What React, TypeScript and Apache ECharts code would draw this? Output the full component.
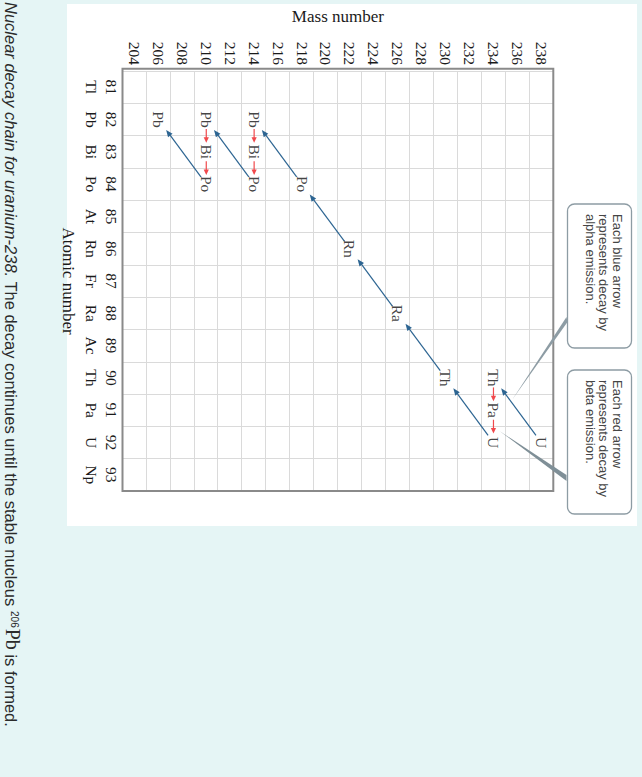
import React, { useEffect, useRef } from "react";
import * as echarts from "echarts";

// Axis categories
const atomicNumbers = ["81", "82", "83", "84", "85", "86", "87", "88", "89", "90", "91", "92", "93"];
const elementSymbols = ["Tl", "Pb", "Bi", "Po", "At", "Rn", "Fr", "Ra", "Ac", "Th", "Pa", "U", "Np"];
const massNumbers = ["204", "206", "208", "210", "212", "214", "216", "218", "220", "222", "224", "226", "228", "230", "232", "234", "236", "238"];

// Decay chain nuclides (in order)
const nuclideSymbol = ["U", "Th", "Pa", "U", "Th", "Ra", "Rn", "Po", "Pb", "Bi", "Po", "Pb", "Bi", "Po", "Pb"];
const nuclideZ = [92, 90, 91, 92, 90, 88, 86, 84, 82, 83, 84, 82, 83, 84, 82];
const nuclideA = [238, 234, 234, 234, 230, 226, 222, 218, 214, 214, 214, 210, 210, 210, 206];
// decay mode of step i -> i+1
const decayMode = ["alpha", "beta", "beta", "alpha", "alpha", "alpha", "alpha", "alpha", "beta", "beta", "alpha", "beta", "beta", "alpha"];

const W = 777;
const H = 642;
const GRID = { left: 68.7, top: 88.7, width: 422.3, height: 430.8 };
const BLUE = "#2d6592";
const RED = "#f0494c";
const SERIF = "'Liberation Serif', 'Times New Roman', serif";
const SANS = "'Liberation Sans', Arial, sans-serif";

const zIdx = (z: number) => atomicNumbers.indexOf(String(z));
const aIdx = (a: number) => massNumbers.indexOf(String(a));

export default function App() {
  const ref = useRef<HTMLDivElement>(null);
  useEffect(() => {
    if (!ref.current) return;
    const chart = echarts.init(ref.current, undefined, { renderer: "svg" });

    const labelData = nuclideSymbol.map((s, i) => [zIdx(nuclideZ[i]), aIdx(nuclideA[i]), s]);
    const arrowData = decayMode.map((m, i) => [
      zIdx(nuclideZ[i]),
      aIdx(nuclideA[i]),
      zIdx(nuclideZ[i + 1]),
      aIdx(nuclideA[i + 1]),
      m === "beta" ? 1 : 0,
    ]);

    const renderArrow = (params: any, api: any) => {
      const p1 = api.coord([api.value(0), api.value(1)]);
      const p2 = api.coord([api.value(2), api.value(3)]);
      const beta = api.value(4) === 1;
      const dx = p2[0] - p1[0];
      const dy = p2[1] - p1[1];
      const len = Math.sqrt(dx * dx + dy * dy);
      const ux = dx / len;
      const uy = dy / len;
      const nx = -uy;
      const ny = ux;
      const s = beta ? 9.5 : 9;
      const e = beta ? 9 : 13;
      const hl = beta ? 5.5 : 7;
      const hw = beta ? 2.6 : 2.8;
      const color = beta ? RED : BLUE;
      const sx = p1[0] + ux * s;
      const sy = p1[1] + uy * s;
      const ex = p2[0] - ux * e;
      const ey = p2[1] - uy * e;
      const bx = ex - ux * hl;
      const by = ey - uy * hl;
      return {
        type: "group",
        children: [
          {
            type: "line",
            shape: { x1: sx, y1: sy, x2: bx + ux * 1, y2: by + uy * 1 },
            style: { stroke: color, lineWidth: 1.2 },
          },
          {
            type: "polygon",
            shape: {
              points: [
                [ex, ey],
                [bx + nx * hw, by + ny * hw],
                [bx - nx * hw, by - ny * hw],
              ],
            },
            style: { fill: color },
          },
        ],
      };
    };

    const box = (left: number, lines: string) => ({
      type: "group",
      z: 20,
      children: [
        {
          type: "rect",
          shape: { x: left, y: 10.5, width: 144, height: 64, r: 7 },
          style: { fill: "#ffffff", stroke: "#8d9ca4", lineWidth: 1.3 },
        },
        {
          type: "text",
          x: left + 10,
          y: 18,
          style: {
            text: lines,
            font: `13px ${SANS}`,
            lineHeight: 13.5,
            fill: "#454545",
          },
        },
      ],
    });

    chart.setOption({
      animation: false,
      backgroundColor: "#e5f5f5",
      grid: { ...GRID, show: false, containLabel: false },
      xAxis: {
        type: "category",
        data: atomicNumbers,
        boundaryGap: true,
        axisLine: { show: false },
        axisTick: { show: false },
        splitLine: { show: true, lineStyle: { color: "#dadada", width: 1 } },
        axisLabel: {
          interval: 0,
          margin: 1,
          fontFamily: SERIF,
          fontSize: 15.5,
          lineHeight: 20,
          color: "#1a1a1a",
          formatter: (v: string, i: number) => `${v}\n${elementSymbols[i]}`,
        },
        name: "Atomic number",
        nameLocation: "middle",
        nameGap: 39,
        nameTextStyle: { fontFamily: SERIF, fontSize: 17, color: "#1a1a1a" },
      },
      yAxis: {
        type: "category",
        data: massNumbers,
        boundaryGap: true,
        axisLine: { show: false },
        axisTick: { show: false },
        splitLine: { show: true, lineStyle: { color: "#dadada", width: 1 } },
        axisLabel: {
          interval: 0,
          margin: 6,
          fontFamily: SERIF,
          fontSize: 15.5,
          color: "#1a1a1a",
        },
        name: "Mass number",
        nameLocation: "middle",
        nameRotate: 90,
        nameGap: 46,
        nameTextStyle: { fontFamily: SERIF, fontSize: 17, color: "#1a1a1a" },
      },
      graphic: [
        {
          type: "rect",
          z: -10,
          shape: { x: 4, y: 5, width: 522, height: 570 },
          style: { fill: "#ffffff" },
        },
        {
          type: "rect",
          z: 10,
          shape: { x: GRID.left, y: GRID.top, width: GRID.width, height: GRID.height },
          style: { fill: "none", stroke: "#8a8a8a", lineWidth: 2 },
        },
        {
          type: "polygon",
          z: 15,
          shape: { points: [[400, 130], [317, 75.5], [322, 74.5]] },
          style: { fill: "#8d9ca4" },
        },
        {
          type: "polygon",
          z: 15,
          shape: { points: [[431, 142.5], [475, 75.5], [481, 75.5]] },
          style: { fill: "#7f8f97" },
        },
        box(204, "Each blue arrow\nrepresents decay by\nalpha emission."),
        box(370, "Each red arrow\nrepresents decay by\nbeta emission."),
        {
          type: "text",
          x: 2,
          y: 631,
          style: {
            text:
              "{i|Nuclear decay chain for uranium-238.}{n| The decay continues until the stable nucleus }{s|206}{p|Pb}{n| is formed.}",
            verticalAlign: "middle",
            fill: "#2b2b2b",
            rich: {
              i: { fontFamily: SANS, fontSize: 16.5, fontStyle: "italic", lineHeight: 17, verticalAlign: "bottom", fill: "#2b2b2b" },
              n: { fontFamily: SANS, fontSize: 16.5, lineHeight: 17, verticalAlign: "bottom", fill: "#2b2b2b" },
              s: { fontFamily: SANS, fontSize: 10, lineHeight: 17, verticalAlign: "top", fill: "#2b2b2b", padding: [0, 1, 0, 0] },
              p: { fontFamily: SERIF, fontSize: 20, lineHeight: 17, verticalAlign: "bottom", fill: "#2b2b2b" },
            },
          },
        },
      ],
      series: [
        {
          type: "custom",
          renderItem: renderArrow,
          encode: { x: [0, 2], y: [1, 3] },
          data: arrowData,
          z: 4,
        },
        {
          type: "scatter",
          symbol: "circle",
          symbolSize: 1,
          itemStyle: { color: "transparent" },
          data: labelData,
          z: 5,
          label: {
            show: true,
            position: "inside",
            formatter: (p: any) => p.data[2],
            fontFamily: SERIF,
            fontSize: 15.5,
            color: "#111",
          },
        },
      ],
    });
    return () => chart.dispose();
  }, []);

  return (
    <div style={{ position: "fixed", left: 0, top: 0, width: 642, height: 777, overflow: "hidden", background: "#e5f5f5" }}>
      <div
        style={{
          position: "absolute",
          left: 0,
          top: 0,
          width: W,
          height: H,
          transformOrigin: "0 0",
          transform: "translate(642px, 0) rotate(90deg)",
        }}
      >
        <div ref={ref} style={{ width: W, height: H }} />
      </div>
    </div>
  );
}
